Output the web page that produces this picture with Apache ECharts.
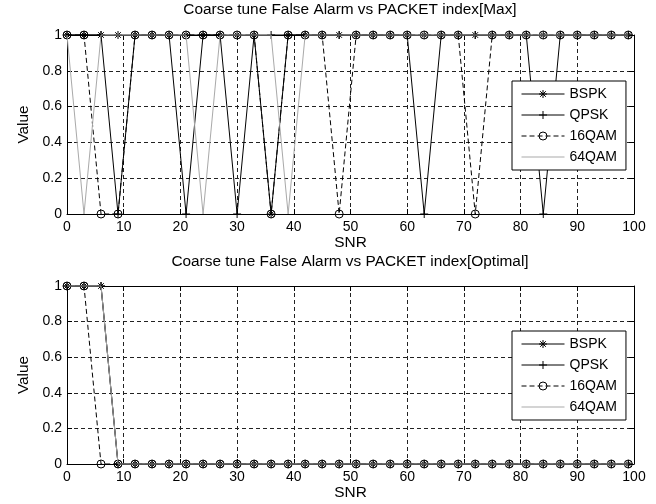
<!DOCTYPE html>
<html>
<head>
<meta charset="utf-8">
<script src="https://cdn.jsdelivr.net/npm/echarts@6/dist/echarts.min.js"></script>
<style>
html,body{margin:0;padding:0;background:#fff;}
#chart{width:656px;height:504px;}
</style>
</head>
<body>
<div id="chart"></div>
<script>
// ---- data ----
var snr = [0,3,6,9,12,15,18,21,24,27,30,33,36,39,42,45,48,51,54,57,60,63,66,69,72,75,78,81,84,87,90,93,96,99];
var xTicks = [0,10,20,30,40,50,60,70,80,90,100];
var yTicks = [0,0.2,0.4,0.6,0.8,1];
var seriesNames = ['BSPK','QPSK','16QAM','64QAM'];
var titleMax = 'Coarse tune False Alarm vs PACKET index[Max]';
var titleOpt = 'Coarse tune False Alarm vs PACKET index[Optimal]';
var xLabel = 'SNR';
var yLabel = 'Value';

var maxBSPK  = [1,1,1,1,1,1,1,1,1,1,1,1,0,1,1,1,1,1,1,1,1,1,1,1,1,1,1,1,1,1,1,1,1,1];
var maxQPSK  = [1,1,1,0,1,1,1,0,1,1,0,1,1,1,1,1,1,1,1,1,1,0,1,1,1,1,1,1,0,1,1,1,1,1];
var max16QAM = [1,1,0,0,1,1,1,1,1,1,1,1,0,1,1,1,0,1,1,1,1,1,1,1,0,1,1,1,1,1,1,1,1,1];
var max64QAM = [1,0,1,1,1,1,1,1,0,1,1,1,1,0,1,1,1,1,1,1,1,1,1,1,1,1,1,1,1,1,1,1,1,1];

var optBSPK  = [1,1,1,0,0,0,0,0,0,0,0,0,0,0,0,0,0,0,0,0,0,0,0,0,0,0,0,0,0,0,0,0,0,0];
var optQPSK  = [1,1,1,0,0,0,0,0,0,0,0,0,0,0,0,0,0,0,0,0,0,0,0,0,0,0,0,0,0,0,0,0,0,0];
var opt16QAM = [1,1,0,0,0,0,0,0,0,0,0,0,0,0,0,0,0,0,0,0,0,0,0,0,0,0,0,0,0,0,0,0,0,0];
var opt64QAM = [1,1,1,0,0,0,0,0,0,0,0,0,0,0,0,0,0,0,0,0,0,0,0,0,0,0,0,0,0,0,0,0,0,0];

// ---- styling ----
var FONT = "'Liberation Sans', Arial, sans-serif";
var GRAY = '#a9a9a9';
var CLEAR = 'rgba(0,0,0,0)';
var PLUS = 'path://M0,5L10,5M5,0L5,10';
var STAR = 'path://M0,5L10,5M5,0L5,10M1.5,1.5L8.5,8.5M1.5,8.5L8.5,1.5';

function pairs(ys){ return snr.map(function(x,i){ return [x, ys[i]]; }); }

var styles = [
  {symbol: STAR, line: {color:'#000', width:1, type:'solid'}},
  {symbol: PLUS, line: {color:'#000', width:1, type:'solid'}},
  {symbol: 'circle', line: {color:'#000', width:1, type:[5,3]}},
  {symbol: 'none', line: {color: GRAY, width:1, type:'solid'}}
];

function makeSeries(gridIdx, arrays){
  return arrays.map(function(arr, i){
    var st = styles[i];
    return {
      name: seriesNames[i], type: 'line',
      xAxisIndex: gridIdx*2, yAxisIndex: gridIdx*2,
      data: pairs(arr),
      symbol: st.symbol, symbolSize: 8, showSymbol: st.symbol !== 'none', showAllSymbol: true,
      clip: false, animation: false,
      lineStyle: st.line,
      itemStyle: {color: CLEAR, borderColor: st.symbol === 'none' ? CLEAR : '#000', borderWidth: 1},
      emphasis: {disabled: true},
      z: 2 + i
    };
  });
}

var tickText = {fontSize: 14, fontFamily: FONT, color: '#000'};
var labelText = {fontSize: 15.4, fontFamily: FONT, color: '#000'};
function xAxes(gridIdx){
  return [
    {type:'value', gridIndex:gridIdx, min:0, max:100, interval:10, position:'bottom',
     axisLine:{show:true, onZero:false, lineStyle:{color:'#000', width:1}},
     axisTick:{show:true, inside:true, length:5, lineStyle:{color:'#000'}},
     axisLabel:Object.assign({margin:6}, tickText),
     splitLine:{show:true, lineStyle:{color:'#222', width:1, type:[4,3]}},
     name: xLabel, nameLocation:'middle', nameGap:13, nameTextStyle: labelText},
    {type:'value', gridIndex:gridIdx, min:0, max:100, interval:10, position:'top',
     axisLine:{show:true, onZero:false, lineStyle:{color:'#000', width:1}},
     axisTick:{show:true, inside:true, length:5, lineStyle:{color:'#000'}},
     axisLabel:{show:false}, splitLine:{show:false}}
  ];
}
function yAxes(gridIdx){
  return [
    {type:'value', gridIndex:gridIdx, min:0, max:1, interval:0.2, position:'left',
     axisLine:{show:true, onZero:false, lineStyle:{color:'#000', width:1}},
     axisTick:{show:true, inside:true, length:5, lineStyle:{color:'#000'}},
     axisLabel:Object.assign({margin:5, formatter:function(v){ return String(+v.toFixed(1)); }}, tickText),
     splitLine:{show:true, lineStyle:{color:'#222', width:1, type:[4,3]}},
     name: yLabel, nameLocation:'middle', nameGap:35, nameRotate:90, nameTextStyle: labelText},
    {type:'value', gridIndex:gridIdx, min:0, max:1, interval:0.2, position:'right',
     axisLine:{show:true, onZero:false, lineStyle:{color:'#000', width:1}},
     axisTick:{show:true, inside:true, length:5, lineStyle:{color:'#000'}},
     axisLabel:{show:false}, splitLine:{show:false}}
  ];
}

function legendAt(top){
  return {
    orient:'vertical', left:512, top:top,
    data: [
      {name: seriesNames[0]},
      {name: seriesNames[1]},
      {name: seriesNames[2]},
      {name: seriesNames[3], itemStyle:{color:CLEAR, borderColor:CLEAR, borderWidth:0}}
    ],
    backgroundColor:'#fff', borderColor:'#000', borderWidth:1, borderRadius:0,
    padding:[6,9,6,9], itemWidth:43, itemHeight:10, itemGap:7,
    selectedMode:false,
    itemStyle:{borderWidth:1},
    lineStyle:{width:1},
    textStyle:{fontSize:14, fontFamily:FONT, color:'#000'}
  };
}

var chart = echarts.init(document.getElementById('chart'), null, {renderer:'canvas'});
chart.setOption({
  animation:false,
  backgroundColor:'#fff',
  title:[
    {text:titleMax, left:350, top:2, padding:0, textAlign:'center',
     textStyle:{fontSize:15.4, fontWeight:'normal', fontFamily:FONT, color:'#000'}},
    {text:titleOpt, left:350, top:254, padding:0, textAlign:'center',
     textStyle:{fontSize:15.4, fontWeight:'normal', fontFamily:FONT, color:'#000'}}
  ],
  grid:[
    {left:67, top:35, width:567, height:179, outerBoundsMode:'none'},
    {left:67, top:286, width:567, height:178, outerBoundsMode:'none'}
  ],
  xAxis: xAxes(0).concat(xAxes(1)),
  yAxis: yAxes(0).concat(yAxes(1)),
  legend:[legendAt(81), legendAt(331)],
  series: makeSeries(0, [maxBSPK, maxQPSK, max16QAM, max64QAM])
          .concat(makeSeries(1, [optBSPK, optQPSK, opt16QAM, opt64QAM]))
});
</script>
</body>
</html>
